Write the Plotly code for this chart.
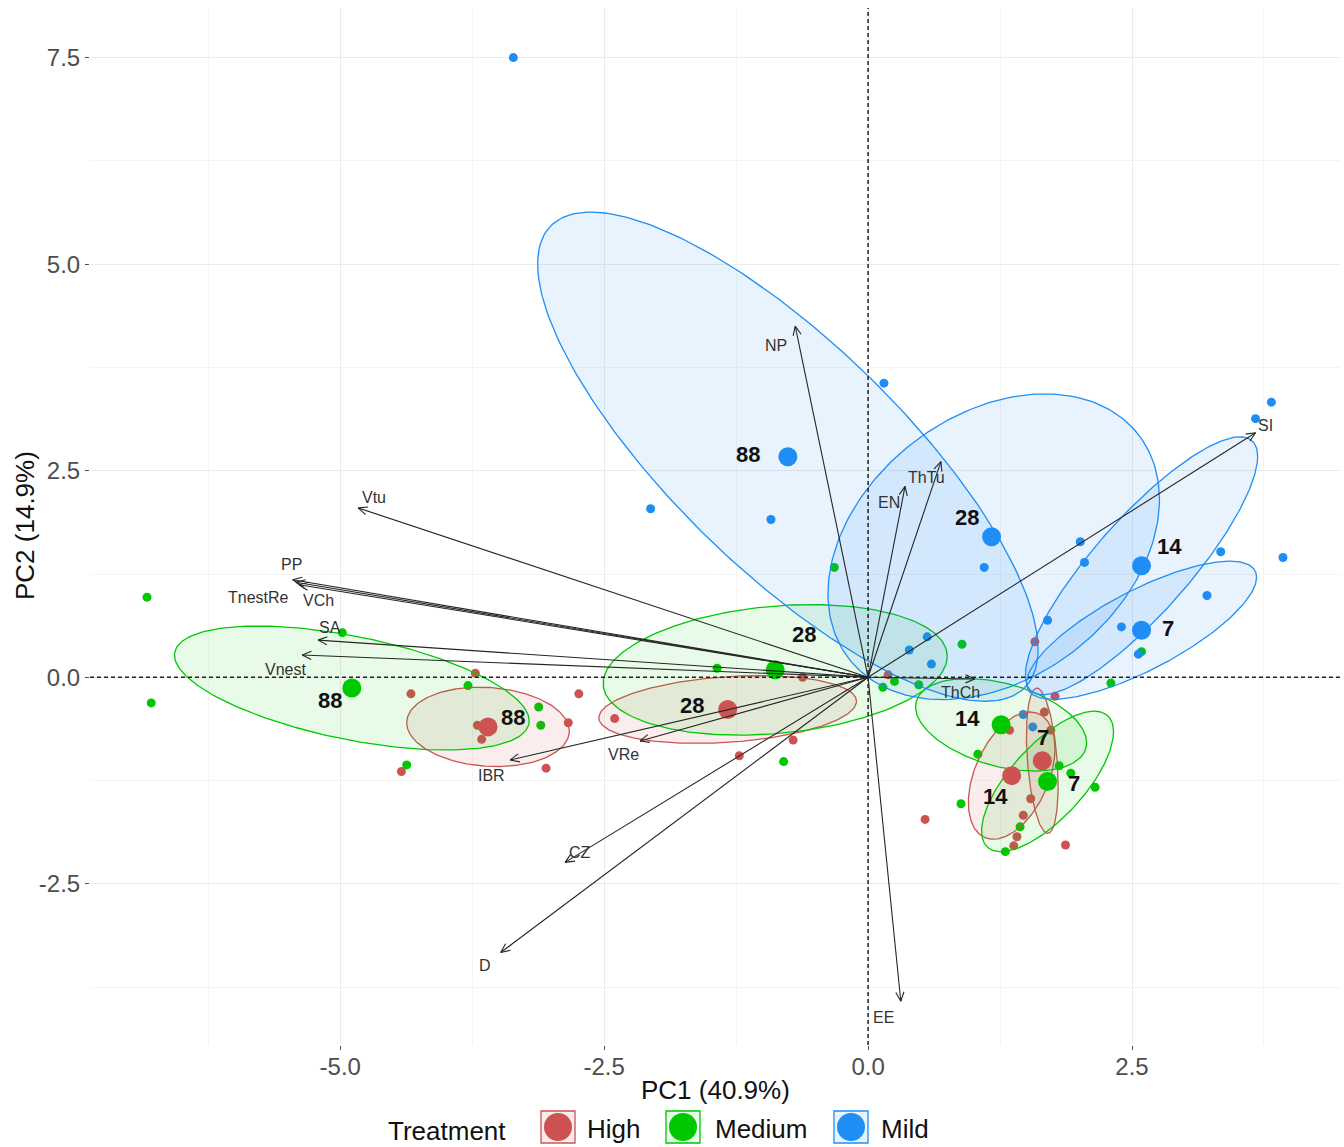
import numpy as np
import plotly.graph_objects as go

# ---------------------------------------------------------------- data
treatments = ["High", "Medium", "Mild"]
days = ["88", "28", "14", "7"]

# individual observations (PC1, PC2)
high_x = [-3.72, -4.33, -2.74, -2.84, -3.66, -3.70, -4.42, -3.05, -2.40, -0.62, -0.71, -1.22,
          0.19, 1.58, 1.77, 1.67, 1.73, 1.34, 1.54, 1.47, 1.41, 1.38, 0.54, 1.87]
high_y = [0.05, -0.20, -0.20, -0.55, -0.75, -0.58, -1.14, -1.10, -0.50, 0.00, -0.76, -0.95,
          0.03, 0.43, -0.23, -0.42, -0.64, -0.64, -1.47, -1.67, -1.93, -2.04, -1.72, -2.03]

medium_x = [-6.83, -6.79, -4.98, -3.79, -3.12, -3.10, -4.37, -1.43, -0.80, -0.32, 0.14, 0.25,
            0.48, 0.89, 2.30, 2.59, 1.04, 1.81, 1.92, 2.15, 0.88, 1.44, 1.30]
medium_y = [0.97, -0.31, 0.54, -0.10, -0.36, -0.58, -1.06, 0.11, -1.02, 1.33, -0.12, -0.05,
            -0.09, 0.40, -0.07, 0.31, -0.93, -1.07, -1.16, -1.33, -1.53, -1.81, -2.11]

mild_x = [-3.36, 0.15, -2.06, -0.92, 3.82, 3.67, 3.93, 3.34, 3.21, 2.01, 2.05, 1.10,
          1.70, 2.40, 2.56, 0.56, 0.39, 0.60, 1.47, 1.56]
mild_y = [7.50, 3.56, 2.04, 1.91, 3.33, 3.13, 1.45, 1.52, 0.99, 1.64, 1.39, 1.33,
          0.69, 0.61, 0.28, 0.49, 0.33, 0.16, -0.45, -0.60]

# group means per day (88, 28, 14, 7)
high_mean_x = [-3.60, -1.33, 1.36, 1.65]
high_mean_y = [-0.60, -0.39, -1.19, -1.01]
medium_mean_x = [-4.89, -0.88, 1.26, 1.70]
medium_mean_y = [-0.13, 0.09, -0.575, -1.26]
mild_mean_x = [-0.76, 1.17, 2.59, 2.59]
mild_mean_y = [2.67, 1.70, 1.35, 0.57]

# confidence ellipses: centre, half-extent in PC1 / PC2, phase lag (deg)
high_ell_cx = [-3.60, -1.33, 1.36, 1.65]
high_ell_cy = [-0.60, -0.39, -1.19, -1.01]
high_ell_rx = [0.77, 1.22, 0.41, 0.15]
high_ell_ry = [0.48, 0.41, 0.77, 0.88]
high_ell_phase = [96, 76, 65, 110]
medium_ell_cx = [-4.89, -0.88, 1.26, 1.70]
medium_ell_cy = [-0.13, 0.09, -0.575, -1.26]
medium_ell_rx = [1.68, 1.63, 0.81, 0.625]
medium_ell_ry = [0.75, 0.79, 0.56, 0.85]
medium_ell_phase = [122, 78, 113, 45]
mild_ell_cx = [-0.76, 1.19, 2.59, 2.59]
mild_ell_cy = [2.67, 1.58, 1.35, 0.57]
mild_ell_rx = [2.37, 1.57, 1.10, 1.09]
mild_ell_ry = [2.96, 1.85, 1.56, 0.835]
mild_ell_phase = [142, 72, 32, 40]

# variable loadings (scaled)
variables = ["NP", "ThTu", "EN", "SI", "Vtu", "PP", "TnestRe", "VCh", "SA", "Vnest",
             "IBR", "VRe", "CZ", "D", "EE", "ThCh"]
load_pc1 = [-0.69, 0.69, 0.35, 3.67, -4.83, -5.45, -5.42, -5.39, -5.21, -5.36,
            -3.39, -2.16, -2.87, -3.48, 0.31, 1.01]
load_pc2 = [4.25, 2.61, 2.31, 2.96, 2.05, 1.18, 1.15, 1.12, 0.45, 0.27,
            -1.00, -0.77, -2.24, -3.33, -3.92, -0.02]

tick_vals = [-5.0, -2.5, 0.0, 2.5, 5.0, 7.5]
tick_text = ["-5.0", "-2.5", "0.0", "2.5", "5.0", "7.5"]

# ---------------------------------------------------------------- layout constants
W, H = 1344, 1147
MARGIN = dict(l=90, r=4, t=8, b=102)
X_RANGE = [-7.37, 4.47]
Y_RANGE = [-4.45, 8.10]
PLOT_W = W - MARGIN["l"] - MARGIN["r"]
PLOT_H = H - MARGIN["t"] - MARGIN["b"]
SX = PLOT_W / (X_RANGE[1] - X_RANGE[0])   # px per PC1 unit
SY = PLOT_H / (Y_RANGE[1] - Y_RANGE[0])   # px per PC2 unit

FONT = "Liberation Sans, Arial, sans-serif"
colors = {"High": "#CD5353", "Medium": "#00C800", "Mild": "#1E8EF5"}
fills = {"High": "rgba(205,83,83,0.10)", "Medium": "rgba(0,200,0,0.09)",
         "Mild": "rgba(30,142,245,0.10)"}

groups = {
    "High": dict(x=high_x, y=high_y, mx=high_mean_x, my=high_mean_y,
                 cx=high_ell_cx, cy=high_ell_cy,
                 rx=high_ell_rx, ry=high_ell_ry, ph=high_ell_phase),
    "Medium": dict(x=medium_x, y=medium_y, mx=medium_mean_x, my=medium_mean_y,
                   cx=medium_ell_cx, cy=medium_ell_cy,
                   rx=medium_ell_rx, ry=medium_ell_ry, ph=medium_ell_phase),
    "Mild": dict(x=mild_x, y=mild_y, mx=mild_mean_x, my=mild_mean_y,
                 cx=mild_ell_cx, cy=mild_ell_cy,
                 rx=mild_ell_rx, ry=mild_ell_ry, ph=mild_ell_phase),
}

# label offsets in screen pixels (right, down) for the day labels
day_label_offset = {
    "High": [(25, -9), (-36, -4), (-16, 21), (1, -23)],
    "Medium": [(-22, 12), (29, -35), (-34, -6), (26, 2)],
    "Mild": [(-40, -2), (-25, -19), (28, -19), (26, -2)],
}
# label offsets in screen pixels (right, down) for the variable names
var_label_offset = [(-19, 19), (-14, 16), (-16, 16), (10, -7), (16, -10), (-1, -15),
                    (-37, 15), (19, 16), (12, -13), (-17, 15), (-19, 16), (-17, 14),
                    (15, -10), (-16, 13), (-17, 16), (-14, 14)]

fig = go.Figure()

# individual points
for tr in treatments:
    g = groups[tr]
    fig.add_trace(go.Scatter(x=g["x"], y=g["y"], mode="markers",
                             marker=dict(size=9, color=colors[tr]),
                             showlegend=False, hoverinfo="skip"))

# ellipses
t = np.linspace(0, 2 * np.pi, 240)
for tr in treatments:
    g = groups[tr]
    for cx, cy, rx, ry, ph in zip(g["cx"], g["cy"], g["rx"], g["ry"], g["ph"]):
        ex = cx + rx * np.cos(t)
        ey = cy + ry * np.cos(t - np.deg2rad(ph))
        fig.add_trace(go.Scatter(x=ex, y=ey, mode="lines", fill="toself",
                                 fillcolor=fills[tr],
                                 line=dict(color=colors[tr], width=1.3),
                                 showlegend=False, hoverinfo="skip"))

# group means
for tr in treatments:
    g = groups[tr]
    fig.add_trace(go.Scatter(x=g["mx"], y=g["my"], mode="markers",
                             marker=dict(size=19, color=colors[tr]),
                             showlegend=False, hoverinfo="skip"))

# loading arrows with open heads
ax_, ay_ = [], []
head_len, head_ang = 10.0, np.deg2rad(24)
for x1, y1 in zip(load_pc1, load_pc2):
    ax_ += [0, x1, None]
    ay_ += [0, y1, None]
    dxp, dyp = x1 * SX, y1 * SY
    n = np.hypot(dxp, dyp)
    ux, uy = dxp / n, dyp / n
    for s in (1, -1):
        c, si = np.cos(s * head_ang), np.sin(s * head_ang)
        hx = ux * c - uy * si
        hy = ux * si + uy * c
        ax_ += [x1 - head_len * hx / SX, x1, None]
        ay_ += [y1 - head_len * hy / SY, y1, None]
fig.add_trace(go.Scatter(x=ax_, y=ay_, mode="lines",
                         line=dict(color="#262626", width=1.1),
                         showlegend=False, hoverinfo="skip"))

annotations = []
for name, x1, y1, (ox, oy) in zip(variables, load_pc1, load_pc2, var_label_offset):
    annotations.append(dict(x=x1, y=y1, xref="x", yref="y", text=name, showarrow=False,
                            xshift=ox, yshift=-oy,
                            font=dict(family=FONT, size=16, color="#333333")))

for tr in treatments:
    g = groups[tr]
    for d, mx, my, (ox, oy) in zip(days, g["mx"], g["my"], day_label_offset[tr]):
        annotations.append(dict(x=mx, y=my, xref="x", yref="y", text=f"<b>{d}</b>",
                                showarrow=False, xshift=ox, yshift=-oy,
                                font=dict(family=FONT, size=22, color="#111111")))


def px_to_paper(px, py):
    return (px - MARGIN["l"]) / PLOT_W, (H - MARGIN["b"] - py) / PLOT_H


def paper_text(px, py, text, size, xanchor="center", angle=0):
    x, y = px_to_paper(px, py)
    return dict(x=x, y=y, xref="paper", yref="paper", text=text, showarrow=False,
                xanchor=xanchor, yanchor="middle", textangle=angle,
                font=dict(family=FONT, size=size, color="#111111"))


# axis titles
annotations.append(paper_text(715, 1090, "PC1 (40.9%)", 26))
annotations.append(paper_text(25, 526, "PC2 (14.9%)", 26, angle=-90))

# legend drawn by hand
shapes = []
annotations.append(paper_text(447, 1131, "Treatment", 26))
legend_key_x = {"High": 558, "Medium": 683, "Mild": 851}
legend_text_x = {"High": 585, "Medium": 713, "Mild": 879}
for tr in treatments:
    kx, ky = px_to_paper(legend_key_x[tr], 1127)
    shapes.append(dict(type="rect", xref="paper", yref="paper", xsizemode="pixel",
                       ysizemode="pixel", xanchor=kx, yanchor=ky, x0=-17, x1=17, y0=-16, y1=16,
                       line=dict(color=colors[tr], width=1.3), fillcolor=fills[tr]))
    shapes.append(dict(type="circle", xref="paper", yref="paper", xsizemode="pixel",
                       ysizemode="pixel", xanchor=kx, yanchor=ky, x0=-14, x1=14, y0=-14, y1=14,
                       line=dict(width=0), fillcolor=colors[tr]))
    annotations.append(paper_text(legend_text_x[tr], 1129, tr, 26, xanchor="left"))

# dashed reference lines through the origin
shapes.append(dict(type="line", xref="x", yref="paper", x0=0, x1=0, y0=0, y1=1,
                   line=dict(color="#222222", width=1.5, dash="4px,3px")))
shapes.append(dict(type="line", xref="paper", yref="y", x0=0, x1=1, y0=0, y1=0,
                   line=dict(color="#222222", width=1.5, dash="4px,3px")))

axis_common = dict(showline=False, zeroline=False, showgrid=True, gridcolor="#EBEBEB",
                   gridwidth=1, ticks="outside", ticklen=4, tickcolor="#4D4D4D",
                   tickmode="array", tickvals=tick_vals, ticktext=tick_text,
                   tickfont=dict(family=FONT, size=24, color="#4D4D4D"),
                   minor=dict(showgrid=True, gridcolor="#F4F4F4", gridwidth=1, dtick=1.25,
                              tick0=0, ticks=""))

fig.update_layout(
    width=W, height=H, margin=MARGIN,
    paper_bgcolor="white", plot_bgcolor="white",
    xaxis=dict(range=X_RANGE, ticklabelstandoff=-4, **axis_common),
    yaxis=dict(range=Y_RANGE, **axis_common),
    shapes=shapes, annotations=annotations, showlegend=False,
)

fig.write_html("out.html")
